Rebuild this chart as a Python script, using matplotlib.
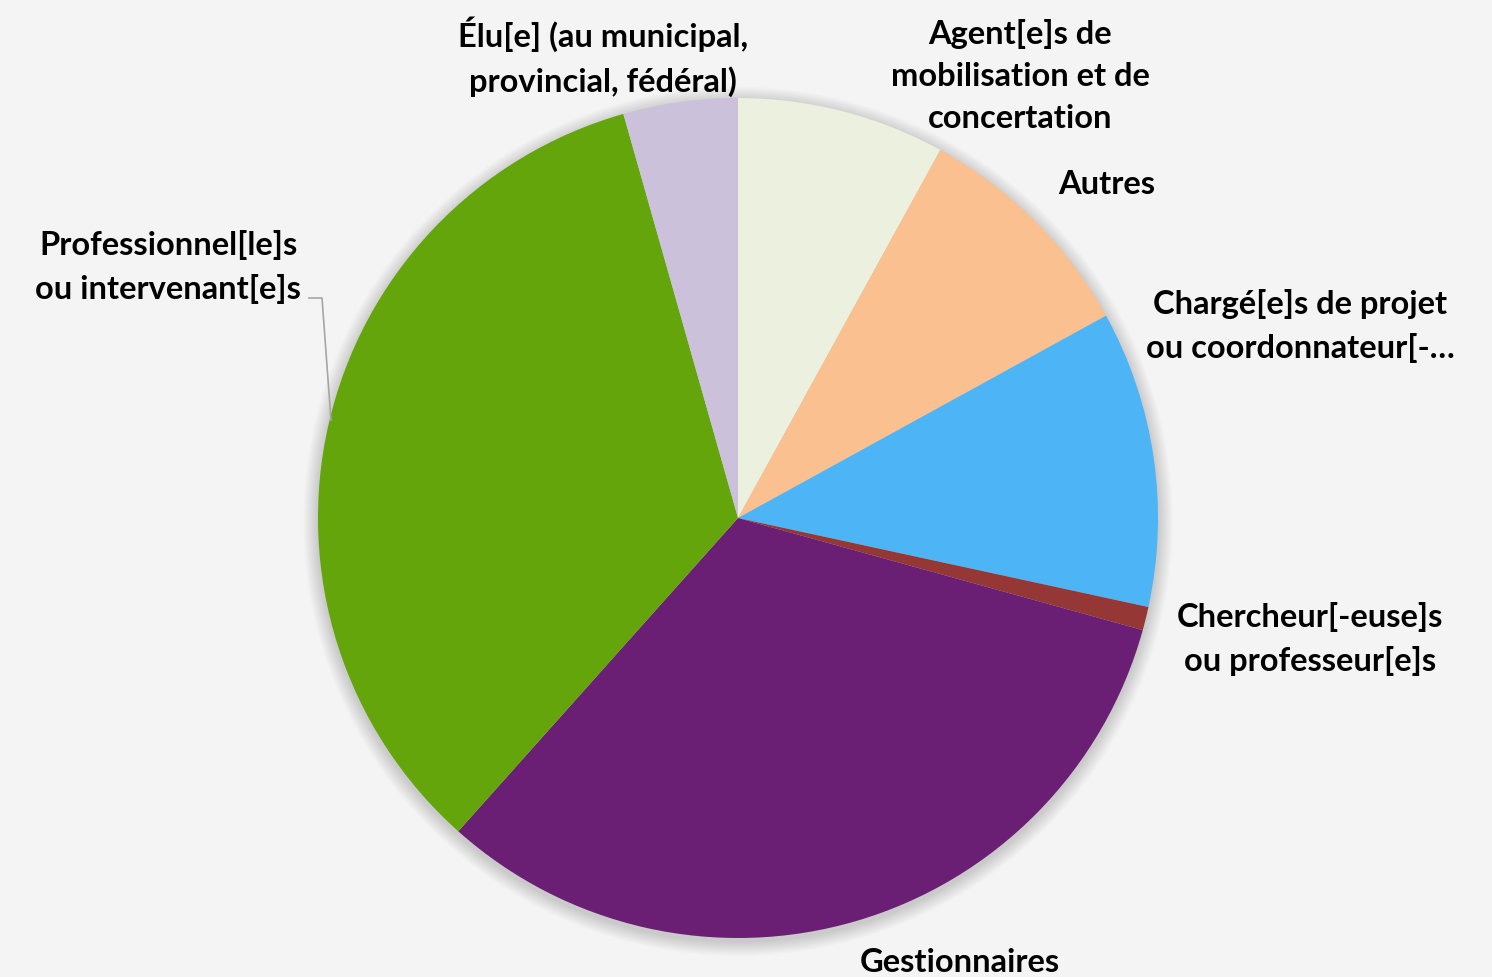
import matplotlib
matplotlib.use("Agg")
import matplotlib.pyplot as plt
from matplotlib.patches import Circle

categories = [
    "Agent[e]s de\nmobilisation et de\nconcertation",
    "Autres",
    "Chargé[e]s de projet\nou coordonnateur[-…",
    "Chercheur[-euse]s\nou professeur[e]s",
    "Gestionnaires",
    "Professionnel[le]s\nou intervenant[e]s",
    "Élu[e] (au municipal,\nprovincial, fédéral)",
]
values = [8.0, 9.0, 11.4, 0.9, 32.3, 34.0, 4.4]
colors = ["#EBF1DE", "#FAC090", "#4DB5F5", "#953735", "#6B1F74", "#63A50B", "#CCC1DA"]

W, H = 1492, 977
cx, cy, R = 738, 518, 420
fig = plt.figure(figsize=(W / 100, H / 100), dpi=100, facecolor="#F4F4F4")
ax = fig.add_axes([0, 0, 1, 1])
ax.set_facecolor("#F4F4F4")

# soft shadow
n = 14
for i in range(n):
    ax.add_patch(Circle((0.0, -0.008), 1.0 + 0.0025 * (n - i),
                        color="black", alpha=0.012, lw=0, zorder=1))

wedges, _ = ax.pie(values, colors=colors, startangle=90, counterclock=False,
                   radius=1.0, center=(0, 0), frame=True,
                   wedgeprops=dict(linewidth=0, zorder=2))
ax.set_xlim(-cx / R, (W - cx) / R)
ax.set_ylim((cy - H) / R, cy / R)
ax.axis("off")

# label positions in pixel space (center x, center y of block)
label_px = [(1020, 76), (1107, 185), (1300, 326), (1310, 639), (960, 962), (168, 267), (603, 57)]
for txt, (px, py) in zip(categories, label_px):
    ax.text((px - cx) / R, (cy - py) / R, txt, ha="center", va="center",
            fontsize=23.5, fontweight="bold", family=["Lato", "DejaVu Sans"],
            linespacing=1.56, color="black", zorder=5)

# leader line for Professionnel
pts_x = [309, 322, 331]
pts_y = [298, 298, 420]
ax.plot([(x - cx) / R for x in pts_x], [(cy - y) / R for y in pts_y],
        color="#A6A6A6", lw=1.2, zorder=3)

fig.savefig("out.png", dpi=100, facecolor=fig.get_facecolor())
